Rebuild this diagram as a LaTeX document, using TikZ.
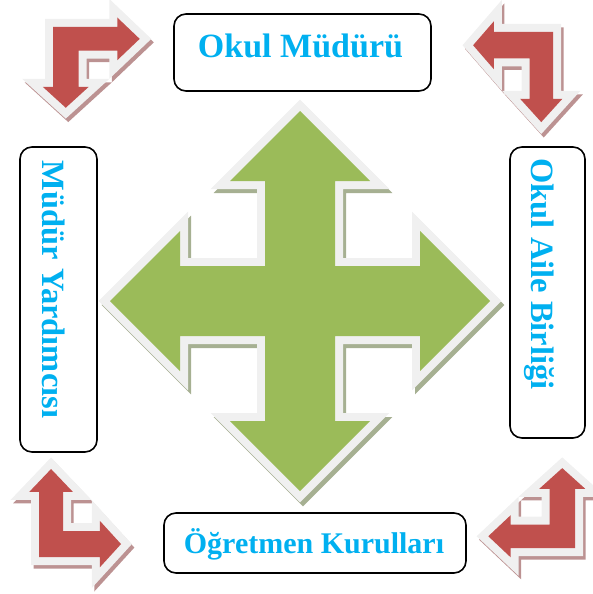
\documentclass[tikz,border=0pt]{standalone}
\usepackage{fontspec}
\setmainfont{Liberation Serif}
\definecolor{txtblue}{HTML}{00B0F0}
\definecolor{crossgreen}{HTML}{9BBB59}
\definecolor{arrowred}{HTML}{C0504D}
\definecolor{rimgray}{HTML}{F0F0F0}
\definecolor{greenshade}{RGB}{166,176,146}
\definecolor{redshade}{RGB}{188,146,146}
\newcommand\bentpath{(0,0) -- (63,0) -- (63,-10) -- (85,12.5) -- (63,35) -- (63,25) -- (25,25) -- (25,63) -- (35,63) -- (12.5,85) -- (-10,63) -- (0,63) -- cycle}
\newcommand\crosspath{(0,-190) -- (70,-120) -- (35,-120) -- (35,-35) -- (120,-35) -- (120,-70) -- (190,0) -- (120,70) -- (120,35) -- (35,35) -- (35,120) -- (70,120) -- (0,190) -- (-70,120) -- (-35,120) -- (-35,35) -- (-120,35) -- (-120,70) -- (-190,0) -- (-120,-70) -- (-120,-35) -- (-35,-35) -- (-35,-120) -- (-70,-120) -- cycle}
\newcommand\redarrow[1]{%
  \begin{scope}[shift={(2.5,3.5)}]\begin{scope}[#1]\filldraw[redshadow] \bentpath;\end{scope}\end{scope}
  \begin{scope}[#1]\draw[rim] \bentpath; \fill[arrowred] \bentpath;\end{scope}}
\begin{document}
\begin{tikzpicture}[x=1pt,y=-1pt,
  box/.style={draw=black,line width=1.6pt,rounded corners=12pt,fill=white,inner sep=0pt},
  lbl/.style={text=txtblue,inner sep=0pt},
  rim/.style={draw=rimgray,line width=16pt,line join=miter},
  redshadow/.style={fill=redshade,draw=redshade,line width=16pt,line join=miter},
  greenshadow/.style={fill=greenshade,draw=greenshade,line width=16pt,line join=miter}]
\useasboundingbox (0,0) rectangle (593,594);
% central four-way arrow
\begin{scope}[shift={(303,305)}]
  \filldraw[greenshadow] \crosspath;
\end{scope}
\begin{scope}[shift={(300,301)}]
  \draw[rim] \crosspath;
  \fill[crossgreen] \crosspath;
\end{scope}
% corner bent arrows
\redarrow{shift={(53,27)},xscale=1.02,yscale=0.95}
\redarrow{shift={(553,32)},xscale=-0.94,yscale=1.06}
\redarrow{shift={(39,557)},xscale=0.965,yscale=-1.035}
\redarrow{shift={(575,548)},xscale=-1.02,yscale=-0.94}
% boxes
\node[box,minimum width=257pt,minimum height=77pt] (btop) at (302.5,52.5) {};
\node[box,minimum width=77pt,minimum height=305pt] (bleft) at (58.5,299.5) {};
\node[box,minimum width=75pt,minimum height=291pt] (bright) at (547.5,292.5) {};
\node[box,minimum width=302pt,minimum height=60pt] (bbottom) at (315,543) {};
% labels
\node[lbl,anchor=base,font=\bfseries\fontsize{34}{40}\selectfont] (ttop) at (300.5,58) {Okul Müdürü};
\node[lbl,anchor=base,rotate=-90,font=\bfseries\fontsize{32.5}{38}\selectfont] (tleft) at (42,289.5) {Müdür Yardımcısı};
\node[lbl,anchor=base,rotate=-90,font=\bfseries\fontsize{32.5}{38}\selectfont] (tright) at (531,274) {Okul Aile Birliği};
\node[lbl,anchor=base,font=\bfseries\fontsize{30}{36}\selectfont] (tbottom) at (314,553) {Öğretmen Kurulları};
\end{tikzpicture}
\end{document}
